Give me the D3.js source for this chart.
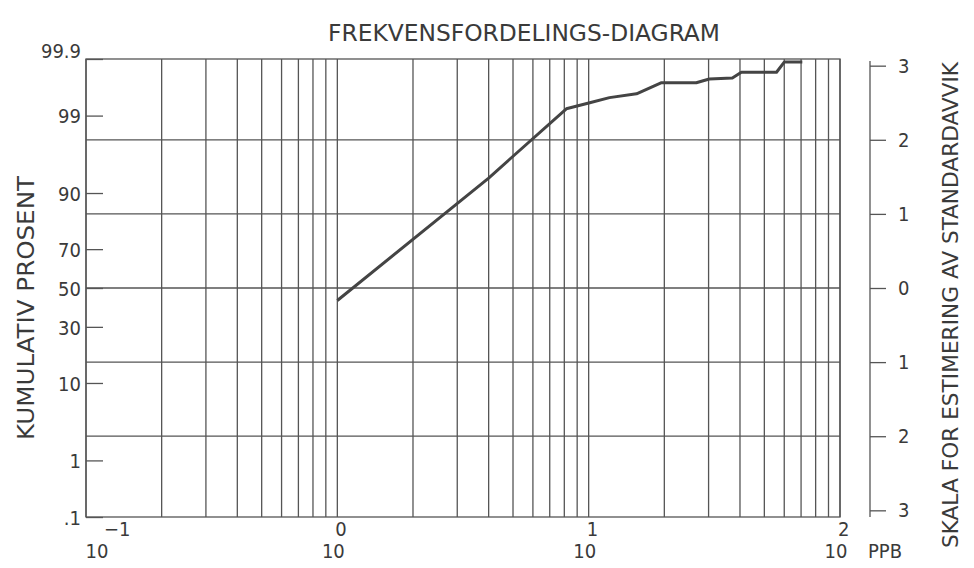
<!DOCTYPE html>
<html>
<head>
<meta charset="utf-8">
<script src="https://cdn.jsdelivr.net/npm/d3@7"></script>
<style>
  body { margin: 0; background: #fff; }
  svg text { font-family: "DejaVu Sans Condensed", "Liberation Sans Narrow", "DejaVu Sans", sans-serif; font-stretch: condensed; fill: #3a3a3a; }
  .grid line, .frame { stroke: #555; stroke-width: 1.3; fill: none; }
  .axis path, .axis line { stroke: #555; stroke-width: 1.3; }
</style>
</head>
<body>
<svg width="974" height="568"></svg>
<script>

// data
var ppb     = [1.0, 4.0, 4.9, 8.15, 10.1, 12.1, 15.5, 19.5, 26.8, 30.2, 37.3, 40.5, 55.9, 60.1, 70.8];
var kumPct  = [43.3, 93.1, 96.0, 99.22, 99.38, 99.49, 99.56, 99.72, 99.72, 99.76, 99.77, 99.82, 99.82, 99.886, 99.886];

var pctTicks = [0.1, 1, 10, 30, 50, 70, 90, 99, 99.9];
var sdTicks = [3, 2, 1, 0, -1, -2, -3];
var sdGrid = [-2, -1, 0, 1, 2];
var decades = [-1, 0, 1, 2];

var title = "FREKVENSFORDELINGS-DIAGRAM";
var leftTitle = "KUMULATIV PROSENT";
var rightTitle = "SKALA FOR ESTIMERING AV STANDARDAVVIK";
var unit = "PPB";

// inverse normal (Acklam)
function probit(p) {
  var a = [-3.969683028665376e+01, 2.209460984245205e+02, -2.759285104469687e+02, 1.383577518672690e+02, -3.066479806614716e+01, 2.506628277459239e+00];
  var b = [-5.447609879822406e+01, 1.615858368580409e+02, -1.556989798598866e+02, 6.680131188771972e+01, -1.328068155288572e+01];
  var c = [-7.784894002430293e-03, -3.223964580411365e-01, -2.400758277161838e+00, -2.549732539343734e+00, 4.374664141464968e+00, 2.938163982698783e+00];
  var d = [7.784695709041462e-03, 3.224671290700398e-01, 2.445134137142996e+00, 3.754408661907416e+00];
  var pl = 0.02425, q, r;
  if (p < pl) {
    q = Math.sqrt(-2 * Math.log(p));
    return (((((c[0]*q+c[1])*q+c[2])*q+c[3])*q+c[4])*q+c[5]) / ((((d[0]*q+d[1])*q+d[2])*q+d[3])*q+1);
  } else if (p <= 1 - pl) {
    q = p - 0.5; r = q * q;
    return (((((a[0]*r+a[1])*r+a[2])*r+a[3])*r+a[4])*r+a[5])*q / (((((b[0]*r+b[1])*r+b[2])*r+b[3])*r+b[4])*r+1);
  } else {
    q = Math.sqrt(-2 * Math.log(1 - p));
    return -(((((c[0]*q+c[1])*q+c[2])*q+c[3])*q+c[4])*q+c[5]) / ((((d[0]*q+d[1])*q+d[2])*q+d[3])*q+1);
  }
}

var svg = d3.select("svg"),
  margin = {top: 59, left: 86},
  width = 754,
  height = 458;

var x = d3.scaleLog().domain([0.1, 100]).range([margin.left, margin.left + width]);
var yz = d3.scaleLinear().domain([-3.09, 3.09]).range([margin.top + height, margin.top]);
var yp = function(p) { return yz(probit(p / 100)); };

// vertical log grid
svg.append("g").attr("class", "grid")
  .selectAll("line").data(x.ticks())
  .enter().append("line")
  .attr("x1", function(d) { return x(d); }).attr("x2", function(d) { return x(d); })
  .attr("y1", margin.top).attr("y2", margin.top + height);

// horizontal sd grid
svg.append("g").attr("class", "grid")
  .selectAll("line").data(sdGrid)
  .enter().append("line")
  .attr("x1", margin.left).attr("x2", margin.left + width)
  .attr("y1", function(d) { return yz(d); }).attr("y2", function(d) { return yz(d); });

svg.append("rect").attr("class", "frame")
  .attr("x", margin.left).attr("y", margin.top)
  .attr("width", width).attr("height", height);

// left percent axis, ticks pointing inward
var pctZ = pctTicks.map(function(p) { return probit(p / 100); });
var la = svg.append("g").attr("class", "axis")
  .attr("transform", "translate(" + margin.left + ",0)")
  .call(d3.axisLeft(yz).tickValues(pctZ).tickSizeInner(-17).tickSizeOuter(0).tickPadding(5)
    .tickFormat(function(d, i) { return pctTicks[i] == 0.1 ? ".1" : pctTicks[i]; }));
la.select(".domain").remove();
la.selectAll("text").style("font-size", "20px").style("font-family", null).attr("fill", null)
  .attr("dy", function(d, i) { return pctTicks[i] == 99.9 ? "-0.05em" : "0.36em"; });
la.selectAll("line").attr("stroke", null);

// right sd axis
var ra = svg.append("g").attr("class", "axis")
  .attr("transform", "translate(" + (margin.left + width + 30) + ",0)")
  .call(d3.axisRight(yz).tickValues(sdTicks).tickSize(16).tickSizeOuter(0).tickPadding(12)
    .tickFormat(function(d) { return Math.abs(d); }));
ra.select(".domain").attr("d", "M0," + (margin.top + 2) + "V" + (margin.top + height)).attr("stroke", null);
ra.selectAll("text").style("font-size", "20px").style("font-family", null).attr("fill", null);
ra.selectAll("line").attr("stroke", null);

// x decade labels
var xl = svg.append("g");
decades.forEach(function(e, i) {
  var px = x(Math.pow(10, e));
  var off = i == 0 ? 15 : 0;
  xl.append("text")
    .attr("x", px - 4 + off).attr("y", margin.top + height + 34)
    .attr("dy", "0.36em").attr("text-anchor", "middle")
    .style("font-size", "20px").text("10");
  xl.append("text")
    .attr("x", px - 2 + off + (i == 0 ? 5 : 0)).attr("y", margin.top + height + 12)
    .attr("dy", "0.36em").attr("text-anchor", "start")
    .style("font-size", "20px").text(e == -1 ? "\u2212" + "1" : e);
});
xl.append("text")
  .attr("x", x(100) + 28).attr("y", margin.top + height + 34)
  .attr("dy", "0.36em").style("font-size", "20px").text(unit);

// data line
var line = d3.line()
  .x(function(d) { return x(d[0]); })
  .y(function(d) { return yp(d[1]); });

svg.append("path")
  .datum(d3.zip(ppb, kumPct))
  .attr("d", line)
  .attr("fill", "none")
  .attr("stroke", "#444")
  .attr("stroke-width", 3)
  .attr("stroke-linejoin", "round");

// titles
svg.append("text")
  .attr("x", 328).attr("y", 33).attr("dy", "0.36em")
  .attr("textLength", 392).attr("lengthAdjust", "spacingAndGlyphs")
  .style("font-size", "23px").text(title);

svg.append("text")
  .attr("transform", "translate(26,308) rotate(-90)")
  .attr("text-anchor", "middle").attr("dy", "0.36em")
  .attr("textLength", 264).attr("lengthAdjust", "spacingAndGlyphs")
  .style("font-size", "23px").text(leftTitle);

svg.append("text")
  .attr("transform", "translate(950,305) rotate(-90)")
  .attr("text-anchor", "middle").attr("dy", "0.36em")
  .attr("textLength", 486).attr("lengthAdjust", "spacingAndGlyphs")
  .style("font-size", "22px").text(rightTitle);

</script>
</body>
</html>
